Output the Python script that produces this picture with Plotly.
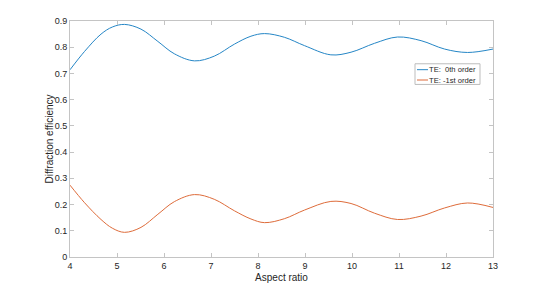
import plotly.graph_objects as go

# Data
aspect = [4.0, 4.31, 4.66, 4.9, 5.16, 5.51, 5.87, 6.22, 6.65, 7.07, 7.50, 7.85, 8.14,
          8.56, 8.99, 9.55, 9.98, 10.48, 10.97, 11.47, 11.97, 12.46, 13.0]
eff_te0 = [0.714, 0.784, 0.850, 0.877, 0.887, 0.869, 0.822, 0.775, 0.748, 0.766, 0.812, 0.842, 0.852,
           0.838, 0.806, 0.771, 0.781, 0.815, 0.839, 0.825, 0.793, 0.780, 0.793]
eff_te1 = [0.274, 0.207, 0.143, 0.110, 0.094, 0.113, 0.163, 0.211, 0.238, 0.220, 0.176, 0.145, 0.131,
           0.146, 0.179, 0.212, 0.204, 0.167, 0.143, 0.156, 0.187, 0.206, 0.189]

series_names = ["TE:  0th order", "TE: -1st order"]
colors = ["#0072BD", "#D95319"]

x_ticks = list(range(4, 14))
y_ticks = [0, 0.1, 0.2, 0.3, 0.4, 0.5, 0.6, 0.7, 0.8, 0.9]
y_tick_labels = ["0", "0.1", "0.2", "0.3", "0.4", "0.5", "0.6", "0.7", "0.8", "0.9"]

FONT = "Liberation Sans, Arial, Helvetica, sans-serif"
TXT = "#262626"
AX = "#c4c4c4"

fig = go.Figure()
for ys, name, c in [(eff_te0, series_names[0], colors[0]),
                    (eff_te1, series_names[1], colors[1])]:
    fig.add_trace(go.Scatter(x=aspect, y=ys, mode="lines", name=name,
                             line=dict(color=c, width=1, shape="spline", smoothing=1.0),
                             opacity=0.85, showlegend=False))

W, H = 545, 294
ml, mr, mt, mb = 70, 52, 21, 33

fig.update_layout(
    width=W, height=H,
    margin=dict(l=ml, r=mr, t=mt, b=mb),
    paper_bgcolor="white", plot_bgcolor="white",
    font=dict(family=FONT, size=9, color=TXT),
    xaxis=dict(range=[4, 13], tickvals=x_ticks, showgrid=False, zeroline=False,
               showline=True, linecolor=AX, linewidth=1, mirror="ticks",
               ticks="inside", ticklen=4, tickcolor=AX,
               tickfont=dict(size=9, color=TXT),
               title=dict(text="Aspect ratio", font=dict(size=10, color=TXT), standoff=4)),
    yaxis=dict(range=[0, 0.9], tickvals=y_ticks, ticktext=y_tick_labels,
               showgrid=False, zeroline=False,
               showline=True, linecolor=AX, linewidth=1, mirror="ticks",
               ticks="inside", ticklen=4, tickcolor=AX,
               tickfont=dict(size=9, color=TXT)),
)

pw = W - ml - mr
ph = H - mt - mb
def px(xp):
    return (xp - ml) / pw
def py(yp):
    return 1 - (yp - mt) / ph

# Y-axis title placed as MATLAB does (close to tick labels)
fig.add_annotation(x=px(48.5), y=0.5, xref="paper", yref="paper", text="Diffraction efficiency",
                   textangle=-90, showarrow=False, xanchor="center", yanchor="middle",
                   font=dict(size=10, color=TXT, family=FONT))

# Custom compact legend (MATLAB style)
lx0, lx1, ly0, ly1 = 415, 480, 64.5, 85.5
fig.add_shape(type="rect", xref="paper", yref="paper",
              x0=px(lx0), x1=px(lx1), y0=py(ly1), y1=py(ly0),
              line=dict(color="#bdbdbd", width=1), fillcolor="white")
rows = [70, 80.5]
for r, name, c in zip(rows, series_names, colors):
    fig.add_shape(type="line", xref="paper", yref="paper",
                  x0=px(417), x1=px(428), y0=py(r + 0.5), y1=py(r + 0.5),
                  line=dict(color=c, width=1), opacity=0.85)
    fig.add_annotation(x=px(426.5), y=py(r + 0.5), xref="paper", yref="paper",
                       text=name, showarrow=False, xanchor="left", yanchor="middle",
                       font=dict(size=7.6, color=TXT, family=FONT))

fig.write_html("out.html", config={"displayModeBar": False},
               post_script="document.body.style.margin='0px';")
